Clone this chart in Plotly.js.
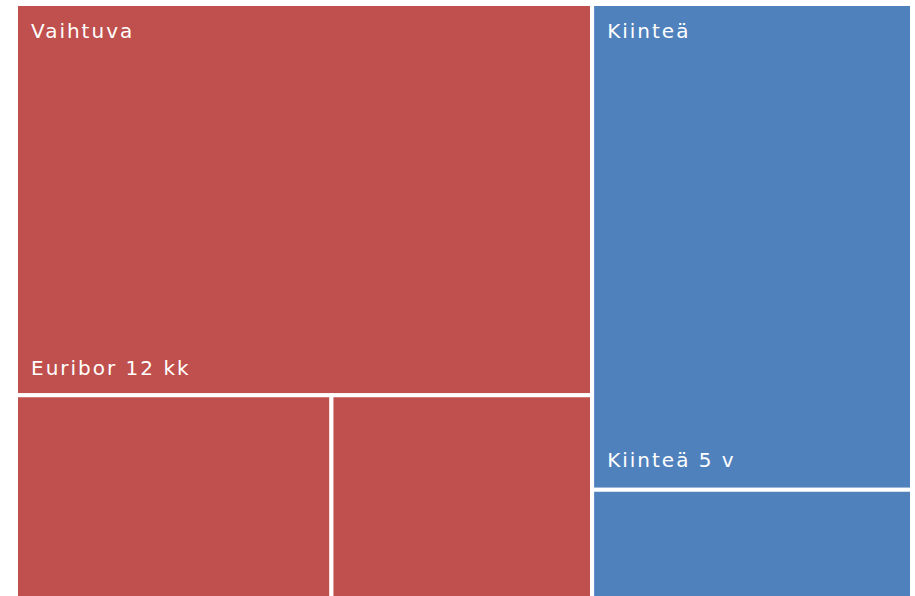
<!DOCTYPE html>
<html>
<head>
<meta charset="utf-8">
<script src="https://cdn.plot.ly/plotly-3.0.1.min.js"></script>
<style>
  html, body { margin: 0; padding: 0; background: #ffffff; overflow: hidden; }
  #wrap { width: 915px; height: 596px; overflow: hidden; }
  #chart { width: 915px; height: 600px; }
  /* the source font is set wide; spread the glyphs a little */
  text { letter-spacing: 2px; }
</style>
</head>
<body>
<div id="wrap"><div id="chart"></div></div>
<script>
// Loan shares by interest type (% of total).
const GROUPS = ['Vaihtuva', 'Kiinteä'];
const GROUP_COLORS = ['#C0504D', '#4F81BD'];

const LEAVES = ['Euribor 12 kk', 'Vaihtuva, muu A', 'Vaihtuva, muu B', 'Kiinteä 5 v', 'Kiinteä, muu'];
const LEAF_GROUPS = ['Vaihtuva', 'Vaihtuva', 'Vaihtuva', 'Kiinteä', 'Kiinteä'];
const LEAF_VALUES = [42.2, 12.1, 10.0, 29.1, 6.6];
// Only these leaf labels are visible; the rest sit below the cropped edge.
const LEAF_SHOWN = [true, false, false, true, false];

const FONT = { family: 'DejaVu Sans', size: 20, color: '#ffffff' };
const PAPER_H = 596; // plot area height in px (600 - top margin)

const ids = [...GROUPS, ...LEAVES];
const parents = [...GROUPS.map(() => ''), ...LEAF_GROUPS];
const values = [...GROUPS.map(() => 0), ...LEAF_VALUES];
const colors = ids.map((id, i) => {
  const g = i < GROUPS.length ? id : LEAF_GROUPS[i - GROUPS.length];
  return GROUP_COLORS[GROUPS.indexOf(g)];
});

// Leaf names at the bottom of their cells.
const leafText = [...GROUPS.map(() => ''), ...LEAVES.map((n, i) => (LEAF_SHOWN[i] ? n : ''))];
// Group names at the top of each group's first (largest) cell.
const groupText = [...GROUPS.map(() => ''), ...LEAVES.map((n, i) =>
  LEAF_GROUPS.indexOf(LEAF_GROUPS[i]) === i ? LEAF_GROUPS[i] : '')];

function treemap(opts) {
  return {
    type: 'treemap',
    ids,
    labels: ids,
    parents,
    values,
    branchvalues: 'remainder',
    sort: true,
    tiling: { packing: 'squarify', squarifyratio: 1, pad: 0 },
    pathbar: { visible: false },
    marker: {
      colors: opts.colors,
      line: { color: '#ffffff', width: opts.lineWidth },
      pad: { t: 0, l: 0, r: 0, b: 0 },
    },
    leaf: { opacity: 1 },
    text: opts.text,
    texttemplate: '\u2002%{text}',
    textposition: opts.textposition,
    textfont: FONT,
    insidetextfont: FONT,
    hoverinfo: opts.hover ? 'label+value' : 'skip',
    domain: { x: [0, 1], y: opts.y },
  };
}

const clear = ids.map(() => 'rgba(0,0,0,0)');

// Text-only copies of the same tiling, nudged so the labels sit inset like the source.
const traces = [
  treemap({ colors, lineWidth: 4, text: ids.map(() => ''), textposition: 'top left', y: [0, 1], hover: true }),
  treemap({ colors: clear, lineWidth: 0, text: groupText, textposition: 'top left', y: [0, 1 - 12 / PAPER_H] }),
  treemap({ colors: clear, lineWidth: 0, text: leafText, textposition: 'bottom left', y: [18 / PAPER_H, 1] }),
];

const layout = {
  width: 915,
  height: 600,
  margin: { l: 16, r: 3, t: 4, b: 0 },
  paper_bgcolor: '#ffffff',
  showlegend: false,
};

Plotly.newPlot('chart', traces, layout, { displayModeBar: false, staticPlot: true });
</script>
</body>
</html>
